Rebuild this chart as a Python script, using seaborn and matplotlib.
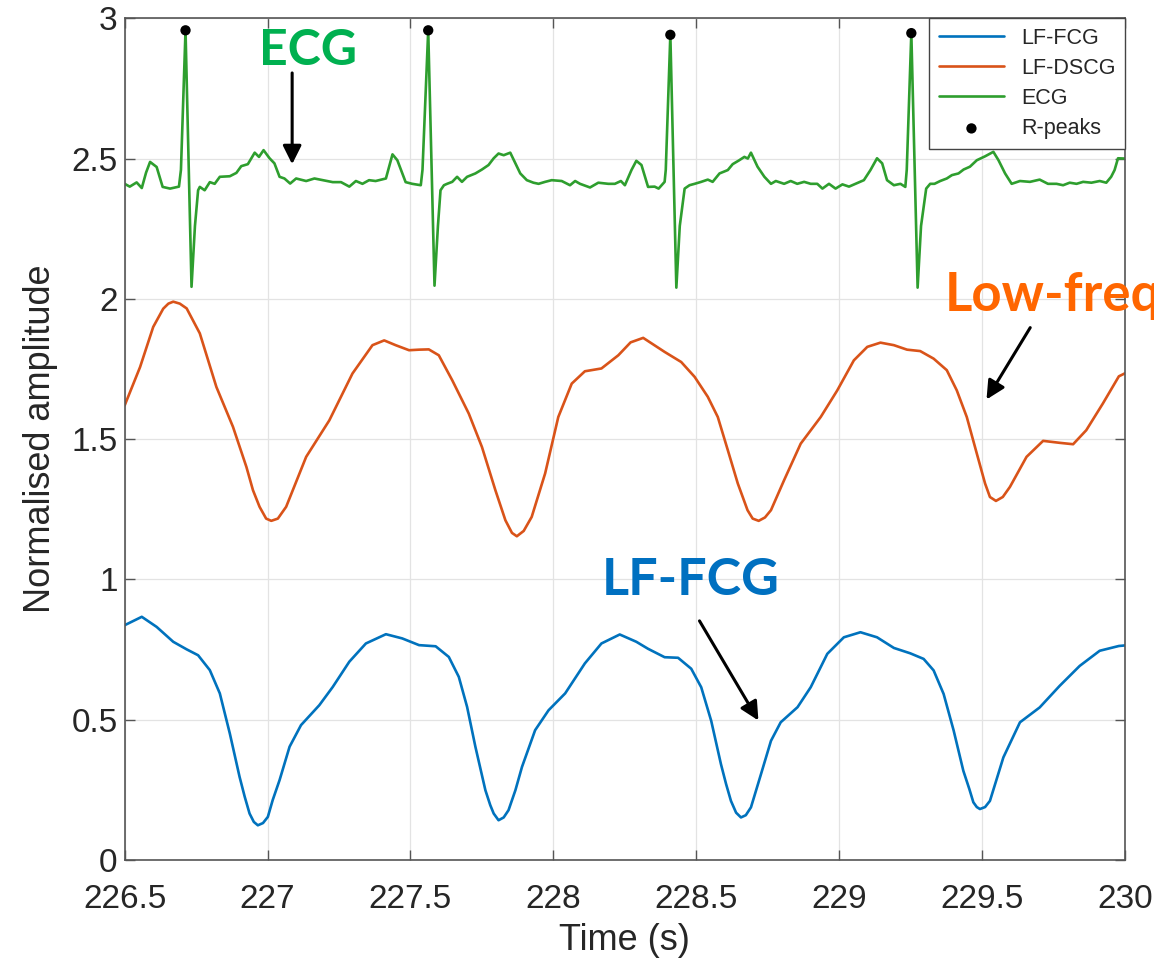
import numpy as np
import pandas as pd
import matplotlib
matplotlib.use("Agg")
import matplotlib.pyplot as plt
import seaborn as sns

# ---------------- data ----------------
ecg_t = [226.500, 226.518, 226.542, 226.560, 226.575, 226.589, 226.612, 226.633, 226.659, 226.690,
         226.697, 226.713, 226.734, 226.746, 226.757, 226.763, 226.780, 226.798, 226.815, 226.833,
         226.868, 226.891, 226.908, 226.931, 226.955, 226.970, 226.986, 227.007, 227.024, 227.042,
         227.059, 227.079, 227.100, 227.135, 227.164, 227.193, 227.228, 227.257, 227.286, 227.309,
         227.332, 227.355, 227.378, 227.414, 227.437, 227.454, 227.483, 227.506, 227.536, 227.542,
         227.562, 227.584, 227.596, 227.605, 227.617, 227.628, 227.646, 227.663, 227.680, 227.698,
         227.727, 227.750, 227.773, 227.791, 227.808, 227.826, 227.849, 227.867, 227.884, 227.907,
         227.930, 227.948, 227.971, 227.994, 228.029, 228.058, 228.076, 228.093, 228.128, 228.157,
         228.192, 228.215, 228.236, 228.250, 228.273, 228.290, 228.308, 228.331, 228.354, 228.368,
         228.389, 228.393, 228.409, 228.430, 228.442, 228.459, 228.476, 228.494, 228.517, 228.540,
         228.557, 228.581, 228.610, 228.627, 228.650, 228.668, 228.680, 228.691, 228.714, 228.738,
         228.761, 228.778, 228.807, 228.830, 228.853, 228.877, 228.900, 228.923, 228.941, 228.964,
         228.987, 229.011, 229.034, 229.057, 229.086, 229.109, 229.132, 229.150, 229.167, 229.191,
         229.214, 229.231, 229.236, 229.252, 229.274, 229.286, 229.304, 229.318, 229.333, 229.353,
         229.376, 229.394, 229.417, 229.435, 229.457, 229.481, 229.510, 229.539, 229.557, 229.580,
         229.603, 229.632, 229.667, 229.701, 229.730, 229.760, 229.783, 229.806, 229.830, 229.853,
         229.882, 229.911, 229.934, 229.951, 229.963, 229.975, 230.000]
ecg_v = [2.410, 2.400, 2.415, 2.395, 2.450, 2.488, 2.470, 2.399, 2.393, 2.400,
         2.460, 2.957, 2.043, 2.260, 2.387, 2.399, 2.387, 2.416, 2.410, 2.435,
         2.437, 2.449, 2.473, 2.480, 2.521, 2.506, 2.530, 2.501, 2.483, 2.435,
         2.429, 2.411, 2.429, 2.420, 2.429, 2.423, 2.416, 2.416, 2.400, 2.420,
         2.410, 2.423, 2.420, 2.429, 2.515, 2.494, 2.416, 2.410, 2.405, 2.460,
         2.957, 2.047, 2.260, 2.387, 2.405, 2.410, 2.417, 2.435, 2.417, 2.435,
         2.447, 2.461, 2.477, 2.501, 2.518, 2.512, 2.521, 2.483, 2.447, 2.423,
         2.414, 2.410, 2.417, 2.423, 2.420, 2.405, 2.420, 2.410, 2.397, 2.414,
         2.410, 2.410, 2.420, 2.405, 2.459, 2.492, 2.477, 2.399, 2.400, 2.393,
         2.417, 2.460, 2.941, 2.040, 2.260, 2.393, 2.405, 2.410, 2.417, 2.425,
         2.417, 2.447, 2.459, 2.480, 2.494, 2.506, 2.500, 2.521, 2.471, 2.435,
         2.410, 2.420, 2.410, 2.420, 2.410, 2.417, 2.410, 2.410, 2.393, 2.410,
         2.393, 2.408, 2.400, 2.410, 2.423, 2.459, 2.501, 2.483, 2.423, 2.405,
         2.410, 2.399, 2.460, 2.947, 2.040, 2.260, 2.393, 2.410, 2.410, 2.420,
         2.429, 2.441, 2.447, 2.461, 2.471, 2.494, 2.508, 2.524, 2.494, 2.447,
         2.410, 2.420, 2.417, 2.425, 2.410, 2.410, 2.405, 2.414, 2.410, 2.417,
         2.414, 2.420, 2.414, 2.435, 2.459, 2.501, 2.500]

dscg_t = [226.500, 226.554, 226.600, 226.635, 226.653, 226.670, 226.693, 226.717, 226.763, 226.821,
          226.879, 226.926, 226.949, 226.972, 226.995, 227.013, 227.036, 227.065, 227.135, 227.216,
          227.297, 227.367, 227.408, 227.448, 227.495, 227.530, 227.564, 227.599, 227.646, 227.704,
          227.750, 227.797, 227.832, 227.855, 227.872, 227.896, 227.924, 227.971, 228.017, 228.064,
          228.110, 228.168, 228.227, 228.270, 228.314, 228.389, 228.447, 228.494, 228.540, 228.575,
          228.610, 228.645, 228.679, 228.697, 228.718, 228.740, 228.761, 228.807, 228.865, 228.935,
          228.993, 229.051, 229.098, 229.144, 229.191, 229.237, 229.283, 229.330, 229.376, 229.411,
          229.446, 229.481, 229.510, 229.527, 229.548, 229.572, 229.597, 229.655, 229.713, 229.771,
          229.818, 229.864, 229.922, 229.978, 230.000]
dscg_v = [1.620, 1.757, 1.900, 1.965, 1.983, 1.990, 1.983, 1.966, 1.877, 1.686,
          1.544, 1.401, 1.318, 1.259, 1.217, 1.209, 1.217, 1.259, 1.437, 1.567,
          1.734, 1.835, 1.852, 1.835, 1.817, 1.819, 1.820, 1.799, 1.710, 1.591,
          1.472, 1.318, 1.211, 1.166, 1.154, 1.173, 1.223, 1.378, 1.579, 1.698,
          1.742, 1.752, 1.799, 1.845, 1.861, 1.811, 1.775, 1.722, 1.651, 1.579,
          1.461, 1.342, 1.247, 1.217, 1.209, 1.221, 1.247, 1.354, 1.484, 1.579,
          1.674, 1.781, 1.829, 1.844, 1.835, 1.819, 1.814, 1.787, 1.746, 1.674,
          1.579, 1.449, 1.342, 1.294, 1.280, 1.294, 1.330, 1.437, 1.494, 1.487,
          1.482, 1.532, 1.627, 1.724, 1.735]

fcg_t = [226.500, 226.560, 226.612, 226.670, 226.717, 226.757, 226.798, 226.833, 226.868, 226.902,
         226.920, 226.937, 226.952, 226.966, 226.984, 227.001, 227.018, 227.042, 227.077, 227.117,
         227.181, 227.228, 227.286, 227.344, 227.414, 227.471, 227.530, 227.588, 227.634, 227.669,
         227.698, 227.727, 227.762, 227.779, 227.791, 227.808, 227.826, 227.843, 227.867, 227.890,
         227.936, 227.983, 228.041, 228.110, 228.168, 228.232, 228.290, 228.331, 228.389, 228.436,
         228.482, 228.517, 228.552, 228.586, 228.604, 228.621, 228.639, 228.656, 228.673, 228.691,
         228.726, 228.761, 228.795, 228.854, 228.900, 228.958, 229.016, 229.074, 229.132, 229.191,
         229.248, 229.295, 229.330, 229.365, 229.400, 229.434, 229.455, 229.469, 229.481, 229.492,
         229.510, 229.527, 229.574, 229.632, 229.701, 229.771, 229.841, 229.911, 229.978, 230.000]
fcg_v = [0.837, 0.867, 0.831, 0.778, 0.751, 0.730, 0.677, 0.594, 0.451, 0.297,
         0.226, 0.166, 0.136, 0.124, 0.132, 0.154, 0.214, 0.285, 0.404, 0.481,
         0.552, 0.617, 0.707, 0.772, 0.805, 0.790, 0.766, 0.762, 0.724, 0.653,
         0.546, 0.404, 0.249, 0.196, 0.166, 0.142, 0.152, 0.178, 0.249, 0.332,
         0.463, 0.534, 0.594, 0.701, 0.772, 0.804, 0.778, 0.753, 0.723, 0.721,
         0.682, 0.616, 0.496, 0.342, 0.271, 0.211, 0.169, 0.152, 0.160, 0.188,
         0.306, 0.425, 0.491, 0.545, 0.616, 0.735, 0.794, 0.812, 0.794, 0.756,
         0.737, 0.717, 0.676, 0.592, 0.462, 0.318, 0.253, 0.206, 0.189, 0.182,
         0.189, 0.211, 0.366, 0.491, 0.544, 0.621, 0.692, 0.746, 0.763, 0.765]

rpeak_t = [226.713, 227.562, 228.409, 229.252]
rpeak_v = [2.957, 2.957, 2.941, 2.947]

series_names = ["LF-FCG", "LF-DSCG", "ECG", "R-peaks"]
x_ticks = [226.5, 227, 227.5, 228, 228.5, 229, 229.5, 230]
x_ticklabels = ["226.5", "227", "227.5", "228", "228.5", "229", "229.5", "230"]
y_ticks = [0, 0.5, 1, 1.5, 2, 2.5, 3]
y_ticklabels = ["0", "0.5", "1", "1.5", "2", "2.5", "3"]

# ---------------- style ----------------
sns.set_style("white")
plt.rcParams["font.family"] = ["Liberation Sans", "DejaVu Sans"]

C_FCG = "#0072BD"
C_DSCG = "#D95319"
C_ECG = "#2e9e2e"
AX_COL = "#262626"

fig = plt.figure(figsize=(11.54, 9.61), dpi=100)
ax = fig.add_axes([0.108, 0.105, 0.867, 0.876])

df_fcg = pd.DataFrame({"t": fcg_t, "v": fcg_v})
df_dscg = pd.DataFrame({"t": dscg_t, "v": dscg_v})
df_ecg = pd.DataFrame({"t": ecg_t, "v": ecg_v})
df_r = pd.DataFrame({"t": rpeak_t, "v": rpeak_v})

line_kw = dict(lw=1.9, estimator=None, sort=False)
sns.lineplot(data=df_fcg, x="t", y="v", ax=ax, color=C_FCG, label=series_names[0], **line_kw)
sns.lineplot(data=df_dscg, x="t", y="v", ax=ax, color=C_DSCG, label=series_names[1], **line_kw)
sns.lineplot(data=df_ecg, x="t", y="v", ax=ax, color=C_ECG, label=series_names[2], **line_kw)
sns.scatterplot(data=df_r, x="t", y="v", ax=ax, color="black", s=55,
                edgecolor="none", label=series_names[3], zorder=5)
for ln in ax.get_lines():
    ln.set_solid_joinstyle("round")

ax.set_xlim(226.5, 230)
ax.set_ylim(0, 3)
ax.set_xticks(x_ticks)
ax.set_xticklabels(x_ticklabels)
ax.set_yticks(y_ticks)
ax.set_yticklabels(y_ticklabels)

ax.grid(True, color="#e3e3e3", lw=0.9)
ax.set_axisbelow(True)
for sp in ax.spines.values():
    sp.set_visible(True)
    sp.set_color("#555555")
    sp.set_linewidth(1.2)

ax.tick_params(axis="both", which="major", direction="in", length=7.5, width=1.0,
               colors="#555555", labelcolor=AX_COL, labelsize=24,
               top=True, right=True, bottom=True, left=True)
ax.tick_params(axis="x", pad=17)
ax.tick_params(axis="y", pad=5)

ax.set_xlabel("Time (s)", fontsize=26, color=AX_COL, labelpad=6)
ax.set_ylabel("Normalised amplitude", fontsize=26, color=AX_COL, labelpad=10)

leg = ax.legend(loc="upper right", bbox_to_anchor=(1.0, 1.0), borderaxespad=0.0,
                fontsize=15.5, handlelength=3.0, handletextpad=0.8, labelspacing=0.42,
                borderpad=0.45, frameon=True, fancybox=False, framealpha=1.0)
leg.get_frame().set_edgecolor("#444444")
leg.get_frame().set_linewidth(1.0)
for txt in leg.get_texts():
    txt.set_color(AX_COL)

# ---------------- annotations ----------------
ann_font = ["Lato", "DejaVu Sans"]
ax.text(227.140, 2.885, "ECG", color="#00b050", fontsize=36, fontweight="bold",
        family=ann_font, ha="center", va="center")
ax.annotate("", xy=(227.086, 2.47), xytext=(227.086, 2.815),
            arrowprops=dict(arrowstyle="-|>", color="black", lw=2.2, mutation_scale=28))

ax.text(228.481, 0.995, "LF-FCG", color="#0070c0", fontsize=37.5, fontweight="bold",
        family=ann_font, ha="center", va="center")
ax.annotate("", xy=(228.722, 0.489), xytext=(228.506, 0.861),
            arrowprops=dict(arrowstyle="-|>", color="black", lw=2.2, mutation_scale=28))

ax.text(229.369, 2.013, "Low-freq", color="#ff6600", fontsize=38, fontweight="bold",
        family=ann_font, ha="left", va="center", clip_on=False)
ax.annotate("", xy=(229.510, 1.633), xytext=(229.673, 1.906),
            arrowprops=dict(arrowstyle="-|>", color="black", lw=2.2, mutation_scale=28))

fig.savefig("out.png", dpi=100)
